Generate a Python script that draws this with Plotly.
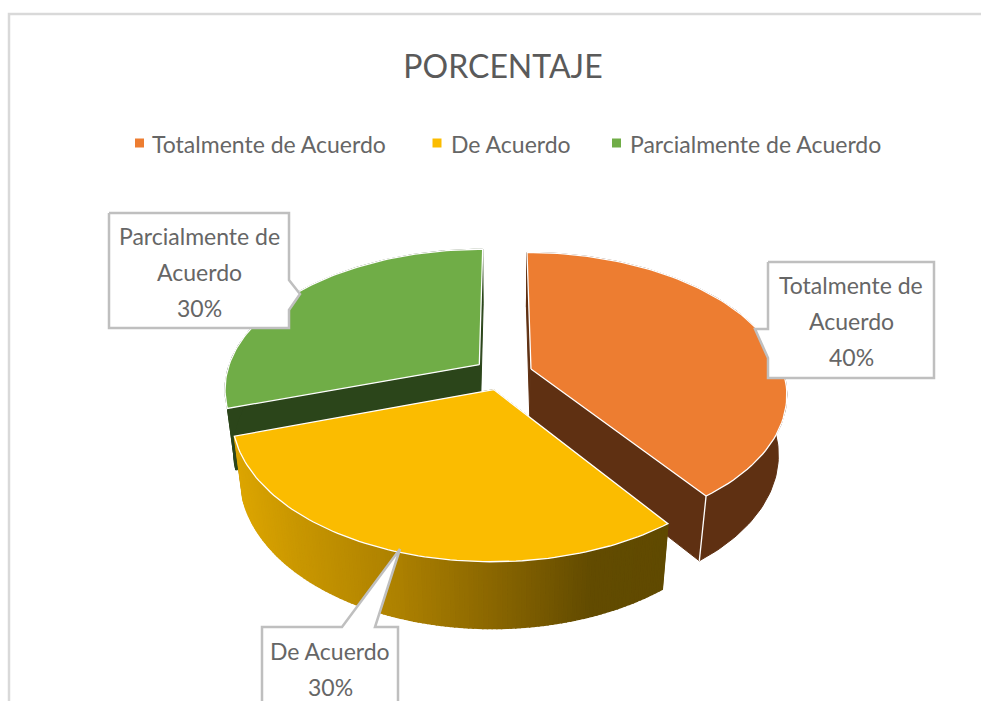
import numpy as np
import plotly.graph_objects as go

# Data
categories = ["Totalmente de Acuerdo", "De Acuerdo", "Parcialmente de Acuerdo"]
percentages = [40, 30, 30]
label_lines = [["Totalmente de", "Acuerdo"], ["De Acuerdo"], ["Parcialmente de", "Acuerdo"]]

# Colors
top_colors = ["#ED7D31", "#FBBC00", "#70AD47"]
side_colors = ["#5F3012", None, "#2B451A"]
yellow_cut = "#5F4A00"
gradient_x = [235, 300, 400, 500, 590, 670]
gradient_r = [221, 200, 172, 135, 98, 96]
gradient_g = [166, 150, 128, 100, 75, 74]
TEXT = "#666666"
BORDER = "#BFBFBF"
FONT = "Lato, sans-serif"

# Projection of the tilted pie (Excel style perspective)
CX, CY = 503, 374
A, B, DEPTH = 253, 137.6, 62
P, Q = 0.167, 0.03
EXPLODE = 0.117


def project(theta, r, z, mid):
    x = r * np.sin(theta) + EXPLODE * np.sin(mid)
    y = r * np.cos(theta) + EXPLODE * np.cos(mid)
    w = 1 + P * y + Q * z
    return CX + A * x / w, CY + (-B * y + DEPTH * z) / w


fig = go.Figure()


def add_poly(xs, ys, fill, line=None, width=1.0):
    fig.add_trace(
        go.Scatter(
            x=list(xs),
            y=list(ys),
            mode="lines",
            fill="toself",
            fillcolor=fill,
            line={"color": line or fill, "width": width},
            hoverinfo="skip",
            showlegend=False,
        )
    )


def add_line(xs, ys, color="white", width=1.3):
    fig.add_trace(
        go.Scatter(
            x=list(xs),
            y=list(ys),
            mode="lines",
            line={"color": color, "width": width},
            hoverinfo="skip",
            showlegend=False,
        )
    )


# Wedge angles from the percentages
edges = np.radians(np.cumsum([0] + percentages) * 3.6)
wedges = [(edges[i], edges[i + 1]) for i in range(len(percentages))]

# back to front: orange, green, yellow
for i in [0, 2, 1]:
    start, end = wedges[i]
    mid = (start + end) / 2
    cut_color = side_colors[i] or yellow_cut

    # cut faces
    for edge in (start, end):
        x0, y0 = project(edge, 0, 0, mid)
        x1, y1 = project(edge, 1, 0, mid)
        x2, y2 = project(edge, 1, 1, mid)
        x3, y3 = project(edge, 0, 1, mid)
        add_poly([x0, x1, x2, x3, x0], [y0, y1, y2, y3, y0], cut_color)

    # thin light sliver behind the green slice
    if i == 2:
        add_line([x1, x2], [y1, y2], width=2)

    # rim
    theta = np.linspace(start, end, 121)
    if side_colors[i]:
        tx, ty = project(theta, 1, 0, mid)
        bx, by = project(theta, 1, 1, mid)
        add_poly(
            np.concatenate([tx, bx[::-1], tx[:1]]),
            np.concatenate([ty, by[::-1], ty[:1]]),
            side_colors[i],
        )
    else:
        for a, b in zip(theta[:-1], theta[1:]):
            t = np.array([a, b])
            tx, ty = project(t, 1, 0, mid)
            bx, by = project(t, 1, 1, mid)
            xm = (tx.mean() + bx.mean()) / 2
            red = np.interp(xm, gradient_x, gradient_r)
            green = np.interp(xm, gradient_x, gradient_g)
            color = f"rgb({red:.0f},{green:.0f},0)"
            add_poly(
                [tx[0], tx[1], bx[1], bx[0], tx[0]],
                [ty[0], ty[1], by[1], by[0], ty[0]],
                color,
                width=1.5,
            )

    # corner line at the front edge of the orange slice
    if i == 0:
        x1, y1 = project(end, 1, 0, mid)
        x2, y2 = project(end, 1, 1, mid)
        add_line([x1, x2], [y1, y2])

    # top face
    arc = np.linspace(start, end, 90)
    ax, ay = project(arc, 1, 0, mid)
    x0, y0 = project(0, 0, 0, mid)
    add_poly(
        np.concatenate([[x0], ax, [x0]]),
        np.concatenate([[y0], ay, [y0]]),
        top_colors[i],
        line="white",
        width=1.3,
    )

# Callouts (box outline with pointer)
callouts = [
    ([768, 768, 755, 768, 768, 934, 934, 768], [262, 329, 329, 358, 378, 378, 262, 262]),
    ([262, 262, 342, 400, 375, 398, 398, 262], [715, 627, 627, 549, 627, 627, 715, 715]),
    ([109, 289, 289, 300, 289, 289, 109, 109], [213, 213, 280, 294, 310, 328, 328, 213]),
]
label_centers = [(851, 285), (330, 651), (199, 236)]
for i, (xs, ys) in enumerate(callouts):
    add_poly(xs, ys, "white", line=BORDER, width=2.5)
    lines = label_lines[i] + [f"{percentages[i]}%"]
    for n, text in enumerate(lines):
        fig.add_annotation(
            x=label_centers[i][0],
            y=label_centers[i][1] + n * 36,
            text=text,
            showarrow=False,
            font={"family": FONT, "size": 23, "color": TEXT},
        )

# Chart frame
add_line([9, 9, 981], [701, 14, 14], color="#D9D9D9", width=2.5)

# Legend
legend_marker_x = [139.5, 437, 616.5]
legend_text_x = [150, 449, 628]
fig.add_trace(
    go.Scatter(
        x=legend_marker_x,
        y=[143, 143, 143],
        mode="markers",
        marker={"symbol": "square", "size": 9, "color": top_colors},
        hoverinfo="skip",
        showlegend=False,
    )
)
for name, x in zip(categories, legend_text_x):
    fig.add_annotation(
        x=x,
        y=144,
        text=name,
        showarrow=False,
        xanchor="left",
        font={"family": FONT, "size": 23, "color": TEXT},
    )

fig.update_layout(
    title={
        "text": "PORCENTAJE",
        "x": 503 / 981,
        "y": 1 - 67 / 701,
        "xanchor": "center",
        "yanchor": "middle",
        "font": {"family": FONT, "size": 32, "color": "#5A5A5A"},
    },
    width=981,
    height=701,
    margin={"l": 0, "r": 0, "t": 0, "b": 0},
    paper_bgcolor="white",
    plot_bgcolor="white",
    showlegend=False,
)
fig.update_xaxes(range=[0, 981], visible=False)
fig.update_yaxes(range=[701, 0], visible=False)

fig.write_html(
    "out.html",
    config={"displayModeBar": False},
    post_script="document.body.style.margin='0';document.body.style.overflow='hidden';",
)
